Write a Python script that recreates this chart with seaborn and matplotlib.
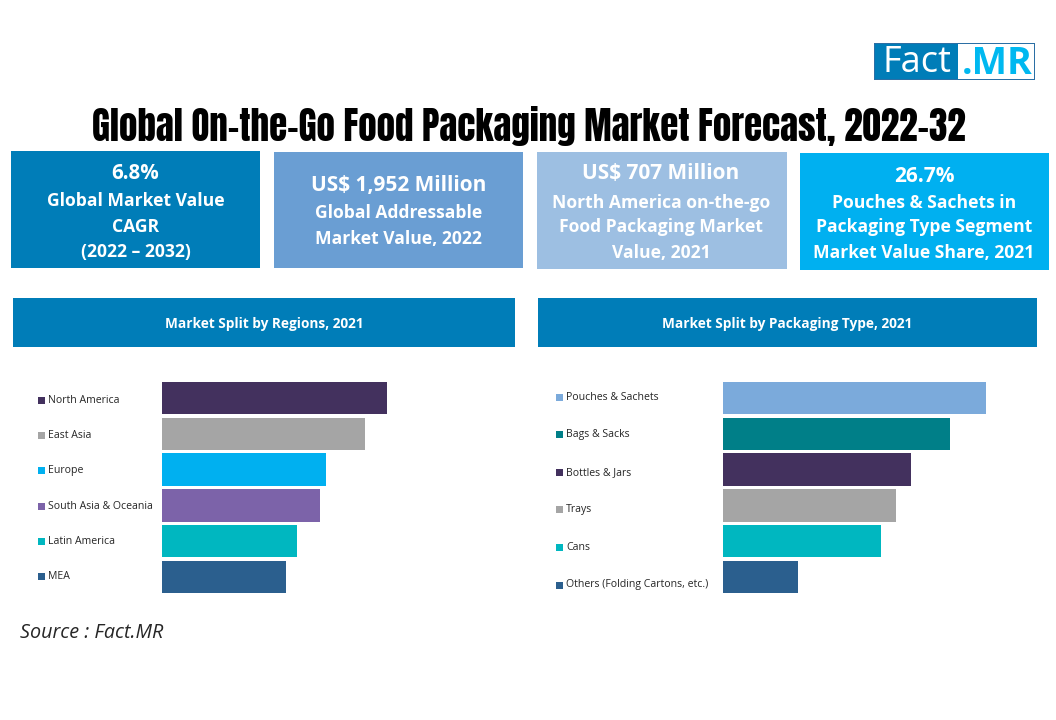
import matplotlib
matplotlib.use('Agg')
import matplotlib.pyplot as plt
from matplotlib.patches import Rectangle
import pandas as pd
import seaborn as sns

W, H = 1056, 720

regions = ['North America', 'East Asia', 'Europe', 'South Asia & Oceania', 'Latin America', 'MEA']
region_share = [22.3, 20.1, 16.3, 15.7, 13.4, 12.3]
region_colors = ['#43315E', '#A5A5A5', '#00B0F0', '#7C63A9', '#00B7C0', '#2B5F8E']

packaging = ['Pouches & Sachets', 'Bags & Sacks', 'Bottles & Jars', 'Trays', 'Cans', 'Others (Folding Cartons, etc.)']
packaging_share = [26.7, 23.0, 19.1, 17.6, 16.0, 7.6]
packaging_colors = ['#7BAADB', '#007F88', '#43315E', '#A5A5A5', '#00B7C0', '#2B5F8E']

sns.set_theme(style='white')
plt.rcParams['font.family'] = ['Open Sans', 'DejaVu Sans']

fig = plt.figure(figsize=(W / 100, H / 100), dpi=100, facecolor='white')


# 픽셀 좌표 기준 도우미
def box(x0, y0, x1, y1, color, **kw):
    fig.add_artist(Rectangle((x0 / W, 1 - y1 / H), (x1 - x0) / W, (y1 - y0) / H,
                             transform=fig.transFigure, facecolor=color, edgecolor='none', **kw))


def label(x, y, s, size, color='white', weight='bold', ha='center', **kw):
    return fig.text(x / W, 1 - (y + 1.5) / H, s, fontsize=size, color=color, fontweight=weight,
                    ha=ha, va='center', **kw)


# logo
box(874, 43, 1035, 80, '#2B6FA5')
box(875, 44, 958, 79, '#007DB8')
box(958, 44, 1034, 79, 'white')
label(917, 62, 'Fact', 26, weight='normal')
label(997, 62, '.MR', 27, color='#00B8F0')

# title : 폰트가 없어도 넘치지 않게 폭에 맞춘다
title = label(529, 124, 'Global On-the-Go Food Packaging Market Forecast, 2022-32', 30,
              color='black', weight='normal', family=['Anton', 'Liberation Sans', 'DejaVu Sans'])
title_w = title.get_window_extent(fig.canvas.get_renderer()).width
title.set_fontsize(30 * 872 / title_w)

# KPI boxes
box(11, 151, 260, 268, '#007DB8')
box(274, 152, 523, 268, '#6A9ED3')
box(537, 152, 787, 269, '#9DBFE2')
box(800, 153, 1049, 270, '#00B0F0')

label(135.5, 172, '6.8%', 14.8)
label(135.5, 200, 'Global Market Value', 12.6)
label(135.5, 225, 'CAGR', 12.6)
label(135.5, 250, '(2022 – 2032)', 12.6)

label(398.5, 184, 'US$ 1,952 Million', 15)
label(398.5, 212, 'Global Addressable', 12.6)
label(398.5, 237, 'Market Value, 2022', 12.6)

label(661, 172, 'US$ 707 Million', 15)
label(661, 201, 'North America on-the-go', 12.6)
label(661, 226, 'Food Packaging Market', 12.6)
label(661, 251, 'Value, 2021', 12.6)

label(924, 175, '26.7%', 15)
label(924, 201, 'Pouches & Sachets in', 12.6)
label(924, 226, 'Packaging Type Segment', 12.6)
label(924, 252, 'Market Value Share, 2021', 12.6)

# section headers
box(13, 298, 515, 347, '#007DB8')
box(538, 298, 1037, 347, '#007DB8')
label(264, 322, 'Market Split by Regions, 2021', 9.8)
label(787, 322, 'Market Split by Packaging Type, 2021', 9.8)


def bars(names, values, colors, x0, x1, key_x, key_y0, key_pitch):
    ax = fig.add_axes([x0 / W, 1 - 595 / H, (x1 - x0) / W, 215 / H])
    df = pd.DataFrame({'name': names, 'share': values})
    sns.barplot(data=df, x='share', y='name', hue='name', palette=colors,
                width=0.9, saturation=1, legend=False, linewidth=0, ax=ax)
    ax.set_xlim(0, max(values))
    ax.axis('off')
    # 범례 대신 사각형 + 텍스트
    for i, (n, c) in enumerate(zip(names, colors)):
        y = key_y0 + i * key_pitch
        box(key_x, y - 3.5, key_x + 7, y + 3.5, c)
        label(key_x + 10, y - 1.5, n, 7.6, color='#262626', weight='normal', ha='left')


bars(regions, region_share, region_colors, 162, 387, 38, 400.5, 35.2)
bars(packaging, packaging_share, packaging_colors, 723, 986, 556, 397, 37.6)

label(20, 631, 'Source : Fact.MR', 14.2, color='#262626', weight='normal', ha='left', style='italic')

fig.savefig('out.png', dpi=100)
